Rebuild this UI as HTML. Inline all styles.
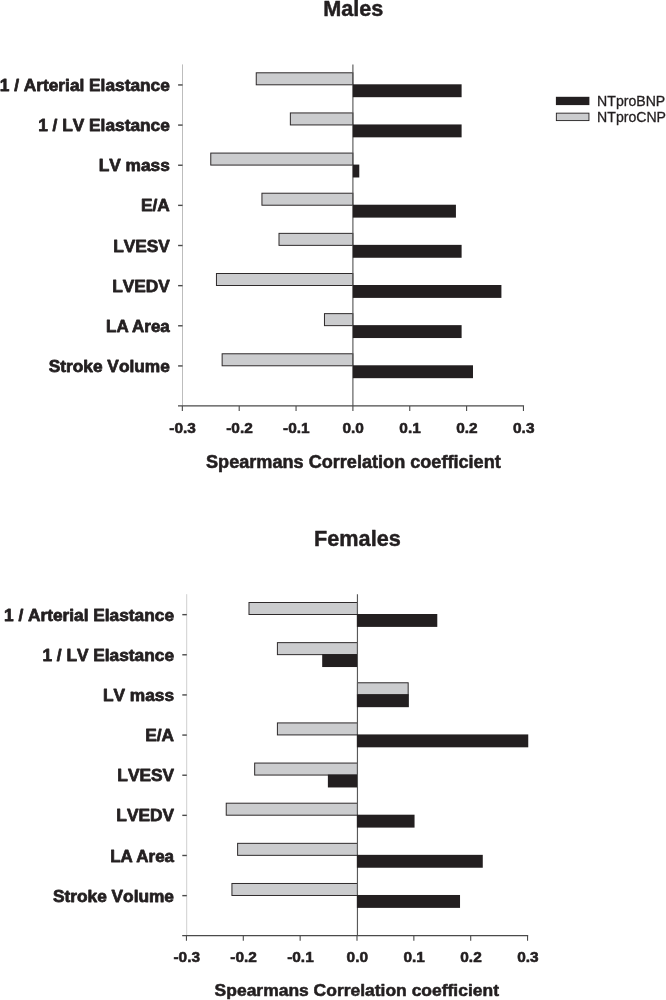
<!DOCTYPE html>
<html><head><meta charset="utf-8"><title>Chart</title>
<style>
html,body{margin:0;padding:0;background:#fff;}
body{width:666px;height:1000px;overflow:hidden;}
svg{display:block;will-change:transform;}
text{font-family:"Liberation Sans",sans-serif;fill:#231f20;font-kerning:none;}
.tk{font-size:14.7px;font-weight:bold;stroke:#231f20;stroke-width:0.55px;stroke-linejoin:round;}
.yl{font-size:16.5px;font-weight:bold;stroke:#231f20;stroke-width:0.75px;stroke-linejoin:round;}
.xt{font-size:17.5px;font-weight:bold;stroke:#231f20;stroke-width:0.55px;stroke-linejoin:round;}
.tt{font-size:21.2px;font-weight:bold;stroke:#231f20;stroke-width:0.45px;stroke-linejoin:round;}
.lg{font-size:14.1px;stroke:#231f20;stroke-width:0.3px;}
</style></head><body>
<svg width="666" height="1000" viewBox="0 0 666 1000">
<rect width="666" height="1000" fill="#fff"/>
<line x1="182.5" y1="64.4" x2="182.5" y2="405.92" stroke="#bdbdbd" stroke-width="1"/>
<line x1="178.1" y1="84.95" x2="182.6" y2="84.95" stroke="#4a4a4a" stroke-width="1.4"/>
<line x1="178.1" y1="125.09" x2="182.6" y2="125.09" stroke="#4a4a4a" stroke-width="1.4"/>
<line x1="178.1" y1="165.23" x2="182.6" y2="165.23" stroke="#4a4a4a" stroke-width="1.4"/>
<line x1="178.1" y1="205.37" x2="182.6" y2="205.37" stroke="#4a4a4a" stroke-width="1.4"/>
<line x1="178.1" y1="245.51" x2="182.6" y2="245.51" stroke="#4a4a4a" stroke-width="1.4"/>
<line x1="178.1" y1="285.65" x2="182.6" y2="285.65" stroke="#4a4a4a" stroke-width="1.4"/>
<line x1="178.1" y1="325.79" x2="182.6" y2="325.79" stroke="#4a4a4a" stroke-width="1.4"/>
<line x1="178.1" y1="365.93" x2="182.6" y2="365.93" stroke="#4a4a4a" stroke-width="1.4"/>
<rect x="256.25" y="72.80" width="96.64" height="12" fill="#cbccce" stroke="#2e2a2b" stroke-width="1"/>
<rect x="290.36" y="112.94" width="62.54" height="12" fill="#cbccce" stroke="#2e2a2b" stroke-width="1"/>
<rect x="210.77" y="153.08" width="142.12" height="12" fill="#cbccce" stroke="#2e2a2b" stroke-width="1"/>
<rect x="261.94" y="193.22" width="90.96" height="12" fill="#cbccce" stroke="#2e2a2b" stroke-width="1"/>
<rect x="279.00" y="233.36" width="73.90" height="12" fill="#cbccce" stroke="#2e2a2b" stroke-width="1"/>
<rect x="216.46" y="273.50" width="136.44" height="12" fill="#cbccce" stroke="#2e2a2b" stroke-width="1"/>
<rect x="324.47" y="313.64" width="28.43" height="12" fill="#cbccce" stroke="#2e2a2b" stroke-width="1"/>
<rect x="222.14" y="353.78" width="130.76" height="12" fill="#cbccce" stroke="#2e2a2b" stroke-width="1"/>
<line x1="352.9" y1="64.4" x2="352.9" y2="405.92" stroke="#595959" stroke-width="1.15"/>
<rect x="352.80" y="84.30" width="108.81" height="12.9" fill="#231f20"/>
<rect x="352.80" y="124.44" width="108.81" height="12.9" fill="#231f20"/>
<rect x="352.80" y="164.58" width="6.49" height="12.9" fill="#231f20"/>
<rect x="352.80" y="204.72" width="103.13" height="12.9" fill="#231f20"/>
<rect x="352.80" y="244.86" width="108.81" height="12.9" fill="#231f20"/>
<rect x="352.80" y="285.00" width="148.61" height="12.9" fill="#231f20"/>
<rect x="352.80" y="325.14" width="108.81" height="12.9" fill="#231f20"/>
<rect x="352.80" y="365.28" width="120.19" height="12.9" fill="#231f20"/>
<line x1="178" y1="405.92" x2="524.05" y2="405.92" stroke="#4a4a4a" stroke-width="1.4"/>
<line x1="182.35" y1="405.92" x2="182.35" y2="411.12" stroke="#4a4a4a" stroke-width="1.1"/>
<text transform="translate(182.65,432.7) scale(1.05,1)" text-anchor="middle" class="tk">-0.3</text>
<line x1="239.20" y1="405.92" x2="239.20" y2="411.12" stroke="#4a4a4a" stroke-width="1.1"/>
<text transform="translate(239.50,432.7) scale(1.05,1)" text-anchor="middle" class="tk">-0.2</text>
<line x1="296.05" y1="405.92" x2="296.05" y2="411.12" stroke="#4a4a4a" stroke-width="1.1"/>
<text transform="translate(296.35,432.7) scale(1.05,1)" text-anchor="middle" class="tk">-0.1</text>
<line x1="352.90" y1="405.92" x2="352.90" y2="411.12" stroke="#4a4a4a" stroke-width="1.1"/>
<text transform="translate(353.20,432.7) scale(1.05,1)" text-anchor="middle" class="tk">0.0</text>
<line x1="409.75" y1="405.92" x2="409.75" y2="411.12" stroke="#4a4a4a" stroke-width="1.1"/>
<text transform="translate(410.05,432.7) scale(1.05,1)" text-anchor="middle" class="tk">0.1</text>
<line x1="466.60" y1="405.92" x2="466.60" y2="411.12" stroke="#4a4a4a" stroke-width="1.1"/>
<text transform="translate(466.90,432.7) scale(1.05,1)" text-anchor="middle" class="tk">0.2</text>
<line x1="523.45" y1="405.92" x2="523.45" y2="411.12" stroke="#4a4a4a" stroke-width="1.1"/>
<text transform="translate(523.75,432.7) scale(1.05,1)" text-anchor="middle" class="tk">0.3</text>
<text transform="translate(169.8,91.0) scale(1.048,1)" text-anchor="end" class="yl">1 / Arterial Elastance</text>
<text transform="translate(169.8,131.1) scale(1.048,1)" text-anchor="end" class="yl">1 / LV Elastance</text>
<text transform="translate(169.8,171.3) scale(1.048,1)" text-anchor="end" class="yl">LV mass</text>
<text transform="translate(169.8,211.4) scale(1.048,1)" text-anchor="end" class="yl">E/A</text>
<text transform="translate(169.8,251.6) scale(1.048,1)" text-anchor="end" class="yl">LVESV</text>
<text transform="translate(169.8,291.7) scale(1.048,1)" text-anchor="end" class="yl">LVEDV</text>
<text transform="translate(169.8,331.8) scale(1.028,1)" text-anchor="end" class="yl" style="font-kerning:normal">LA Area</text>
<text transform="translate(169.8,372.0) scale(1.048,1)" text-anchor="end" class="yl">Stroke Volume</text>
<text x="353.4" y="467.8" text-anchor="middle" class="xt" style="font-size:17.5px" textLength="294.7" lengthAdjust="spacingAndGlyphs">Spearmans Correlation coefficient</text>
<text transform="translate(353.29999999999995,15.6) scale(1.022,1)" text-anchor="middle" class="tt">Males</text>
<line x1="186.7" y1="594.2" x2="186.7" y2="935.62" stroke="#cfcfcf" stroke-width="1"/>
<line x1="182.29999999999998" y1="614.65" x2="186.79999999999998" y2="614.65" stroke="#4a4a4a" stroke-width="1.4"/>
<line x1="182.29999999999998" y1="654.79" x2="186.79999999999998" y2="654.79" stroke="#4a4a4a" stroke-width="1.4"/>
<line x1="182.29999999999998" y1="694.93" x2="186.79999999999998" y2="694.93" stroke="#4a4a4a" stroke-width="1.4"/>
<line x1="182.29999999999998" y1="735.07" x2="186.79999999999998" y2="735.07" stroke="#4a4a4a" stroke-width="1.4"/>
<line x1="182.29999999999998" y1="775.21" x2="186.79999999999998" y2="775.21" stroke="#4a4a4a" stroke-width="1.4"/>
<line x1="182.29999999999998" y1="815.35" x2="186.79999999999998" y2="815.35" stroke="#4a4a4a" stroke-width="1.4"/>
<line x1="182.29999999999998" y1="855.49" x2="186.79999999999998" y2="855.49" stroke="#4a4a4a" stroke-width="1.4"/>
<line x1="182.29999999999998" y1="895.63" x2="186.79999999999998" y2="895.63" stroke="#4a4a4a" stroke-width="1.4"/>
<rect x="248.99" y="602.50" width="108.46" height="12" fill="#cbccce" stroke="#2e2a2b" stroke-width="1"/>
<rect x="277.41" y="642.64" width="80.04" height="12" fill="#cbccce" stroke="#2e2a2b" stroke-width="1"/>
<rect x="357.45" y="682.78" width="50.72" height="12" fill="#cbccce" stroke="#2e2a2b" stroke-width="1"/>
<rect x="277.41" y="722.92" width="80.04" height="12" fill="#cbccce" stroke="#2e2a2b" stroke-width="1"/>
<rect x="254.67" y="763.06" width="102.78" height="12" fill="#cbccce" stroke="#2e2a2b" stroke-width="1"/>
<rect x="226.24" y="803.20" width="131.21" height="12" fill="#cbccce" stroke="#2e2a2b" stroke-width="1"/>
<rect x="237.62" y="843.34" width="119.83" height="12" fill="#cbccce" stroke="#2e2a2b" stroke-width="1"/>
<rect x="231.93" y="883.48" width="125.52" height="12" fill="#cbccce" stroke="#2e2a2b" stroke-width="1"/>
<line x1="357.45" y1="594.2" x2="357.45" y2="935.62" stroke="#595959" stroke-width="1.15"/>
<rect x="356.90" y="614.00" width="80.39" height="12.9" fill="#231f20"/>
<rect x="322.19" y="654.14" width="34.91" height="12.9" fill="#231f20"/>
<rect x="356.90" y="694.28" width="51.97" height="12.9" fill="#231f20"/>
<rect x="356.90" y="734.42" width="171.35" height="12.9" fill="#231f20"/>
<rect x="327.88" y="774.56" width="29.23" height="12.9" fill="#231f20"/>
<rect x="356.90" y="814.70" width="57.65" height="12.9" fill="#231f20"/>
<rect x="356.90" y="854.84" width="125.87" height="12.9" fill="#231f20"/>
<rect x="356.90" y="894.98" width="103.13" height="12.9" fill="#231f20"/>
<line x1="182.2" y1="935.62" x2="528.15" y2="935.62" stroke="#4a4a4a" stroke-width="1.4"/>
<line x1="186.45" y1="935.62" x2="186.45" y2="940.82" stroke="#4a4a4a" stroke-width="1.1"/>
<text transform="translate(186.75,962.4) scale(1.05,1)" text-anchor="middle" class="tk">-0.3</text>
<line x1="243.30" y1="935.62" x2="243.30" y2="940.82" stroke="#4a4a4a" stroke-width="1.1"/>
<text transform="translate(243.60,962.4) scale(1.05,1)" text-anchor="middle" class="tk">-0.2</text>
<line x1="300.15" y1="935.62" x2="300.15" y2="940.82" stroke="#4a4a4a" stroke-width="1.1"/>
<text transform="translate(300.45,962.4) scale(1.05,1)" text-anchor="middle" class="tk">-0.1</text>
<line x1="357.00" y1="935.62" x2="357.00" y2="940.82" stroke="#4a4a4a" stroke-width="1.1"/>
<text transform="translate(357.30,962.4) scale(1.05,1)" text-anchor="middle" class="tk">0.0</text>
<line x1="413.85" y1="935.62" x2="413.85" y2="940.82" stroke="#4a4a4a" stroke-width="1.1"/>
<text transform="translate(414.15,962.4) scale(1.05,1)" text-anchor="middle" class="tk">0.1</text>
<line x1="470.70" y1="935.62" x2="470.70" y2="940.82" stroke="#4a4a4a" stroke-width="1.1"/>
<text transform="translate(471.00,962.4) scale(1.05,1)" text-anchor="middle" class="tk">0.2</text>
<line x1="527.55" y1="935.62" x2="527.55" y2="940.82" stroke="#4a4a4a" stroke-width="1.1"/>
<text transform="translate(527.85,962.4) scale(1.05,1)" text-anchor="middle" class="tk">0.3</text>
<text transform="translate(174.0,620.7) scale(1.048,1)" text-anchor="end" class="yl">1 / Arterial Elastance</text>
<text transform="translate(174.0,660.8) scale(1.048,1)" text-anchor="end" class="yl">1 / LV Elastance</text>
<text transform="translate(174.0,701.0) scale(1.048,1)" text-anchor="end" class="yl">LV mass</text>
<text transform="translate(174.0,741.1) scale(1.048,1)" text-anchor="end" class="yl">E/A</text>
<text transform="translate(174.0,781.3) scale(1.048,1)" text-anchor="end" class="yl">LVESV</text>
<text transform="translate(174.0,821.4) scale(1.048,1)" text-anchor="end" class="yl">LVEDV</text>
<text transform="translate(174.0,861.5) scale(1.028,1)" text-anchor="end" class="yl" style="font-kerning:normal">LA Area</text>
<text transform="translate(174.0,901.7) scale(1.048,1)" text-anchor="end" class="yl">Stroke Volume</text>
<text x="356.8" y="996.1" text-anchor="middle" class="xt" style="font-size:16.8px" textLength="284.4" lengthAdjust="spacingAndGlyphs">Spearmans Correlation coefficient</text>
<text transform="translate(357.4,545.6) scale(1.022,1)" text-anchor="middle" class="tt">Females</text>
<rect x="555.9" y="96.8" width="33.5" height="8.3" fill="#231f20"/>
<rect x="556.35" y="113.15" width="32.6" height="7.45" fill="#cbccce" stroke="#231f20" stroke-width="0.9"/>
<text x="597.1" y="106.2" class="lg">NTproBNP</text>
<text x="597.1" y="122" class="lg">NTproCNP</text>
</svg>
</body></html>
